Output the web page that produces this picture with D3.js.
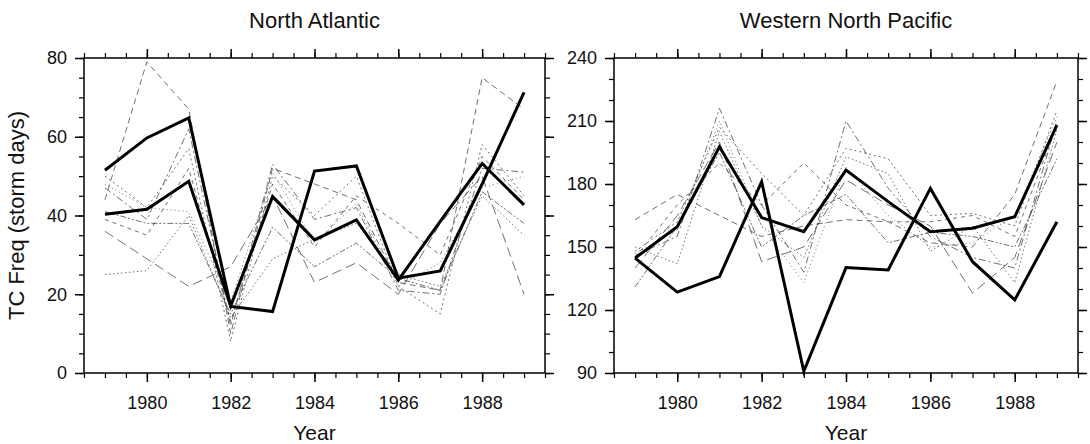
<!DOCTYPE html>
<html>
<head>
<meta charset="utf-8">
<script src="https://cdn.jsdelivr.net/npm/d3@7"></script>
<style>
  body { margin: 0; background: #fff; }
  text { font-family: "Liberation Sans", Arial, sans-serif; fill: #111; }
</style>
</head>
<body>
<svg id="chart" width="1090" height="444"></svg>
<script>
// years on the x axis
const years = [1979, 1980, 1981, 1982, 1983, 1984, 1985, 1986, 1987, 1988, 1989]
const yearTicks = [1980, 1982, 1984, 1986, 1988]

// North Atlantic (storm days)
const naTicks = [0, 20, 40, 60, 80]
const naBold1 = [51.5, 59.7, 64.8, 16.9, 15.6, 51.3, 52.6, 24.1, 25.9, 48, 71.3]
const naBold2 = [40.3, 41.6, 48.7, 17, 44.8, 33.8, 38.9, 23.6, 38.5, 53.2, 42.7]
const naThin = [
    [44, 79, 67, 10, 52, 48, 44, 23, 21, 75, 67],
    [50, 42, 57, 8, 50, 40, 50, 22, 15, 58, 45],
    [47, 39, 62, 12, 53, 39, 42, 21, 20, 52, 51],
    [25, 26, 40, 14, 29, 34, 38, 25, 22, 45, 35],
    [36, 29, 22, 27, 45, 23, 28, 20, 38, 50, 20],
    [41, 38, 38, 15, 37, 27, 33, 24, 21, 46, 38],
    [39, 35, 52, 13, 48, 32, 45, 38, 30, 55, 44],
    [48, 42, 41, 18, 51, 33, 43, 22, 28, 47, 50]
]

// Western North Pacific (storm days)
const wnpTicks = [90, 120, 150, 180, 210, 240]
const wnpBold1 = [144.7, 159.7, 197.7, 164, 157.3, 186.6, 171.6, 157.3, 158.9, 164.4, 208]
const wnpBold2 = [144.7, 128.5, 135.9, 181.1, 90.8, 140.2, 139.1, 177.9, 143, 124.8, 162]
const wnpThin = [
    [163, 175, 165, 155, 160, 163, 162, 152, 150, 175, 229],
    [148, 162, 207, 185, 165, 197, 192, 165, 166, 160, 215],
    [146, 155, 216, 170, 138, 210, 178, 155, 145, 140, 210],
    [150, 142, 205, 160, 145, 193, 185, 148, 160, 133, 206],
    [140, 165, 200, 143, 150, 182, 170, 160, 128, 145, 200],
    [131, 160, 195, 150, 165, 175, 152, 157, 155, 150, 192],
    [145, 170, 190, 170, 190, 170, 162, 162, 165, 155, 208],
    [147, 158, 210, 160, 133, 188, 165, 150, 152, 165, 212]
]

const dashes = ["6,4", "2,3", "7,3,2,3", "1.5,2.5", "10,5", "6,2,2,2,2,2", "4,4", "1,3"]

var svg = d3.select("#chart")
var top0 = 58, bottom0 = 373

function panel(opt) {
    var x = d3.scaleLinear().domain([1978.5, 1989.5]).range([opt.left, opt.right])
    var y = d3.scaleLinear().domain(opt.yDomain).range([bottom0, top0])
    var g = svg.append("g")

    // thin ensemble lines first, bold lines on top
    var line = d3.line()
        .x((d, i) => x(years[i]))
        .y(d => y(d))

    g.selectAll(".thin")
        .data(opt.thin)
        .join("path")
        .attr("class", "thin")
        .attr("d", line)
        .attr("fill", "none")
        .attr("stroke", "#444")
        .attr("stroke-width", 0.9)
        .attr("stroke-opacity", 0.85)
        .attr("stroke-dasharray", (d, i) => dashes[i % dashes.length])

    g.selectAll(".bold")
        .data(opt.bold)
        .join("path")
        .attr("class", "bold")
        .attr("d", line)
        .attr("fill", "none")
        .attr("stroke", "#000")
        .attr("stroke-width", 3)

    // frame
    g.append("rect")
        .attr("x", opt.left).attr("y", top0)
        .attr("width", opt.right - opt.left).attr("height", bottom0 - top0)
        .attr("fill", "none").attr("stroke", "#000").attr("stroke-width", 1.5)

    var minorX = d3.range(1978.5, 1989.51, 0.5)
    var minorY = d3.range(opt.yDomain[0], opt.yDomain[1] + 0.01, opt.minorStep)

    function axes(axisFn, scale, pos, major, minor, labels, pad) {
        var a = g.append("g").attr("transform", pos)
        a.call(axisFn(scale).tickValues(minor).tickSize(5).tickFormat(""))
        var b = g.append("g").attr("transform", pos)
        b.call(axisFn(scale).tickValues(major).tickSize(9).tickPadding(pad)
            .tickFormat(labels ? d3.format("d") : ""))
        g.selectAll(".domain").remove()
        a.selectAll("line").attr("stroke", "#000").attr("stroke-width", 1.2)
        b.selectAll("line").attr("stroke", "#000").attr("stroke-width", 1.5)
        b.selectAll("text").attr("font-size", 18).style("font-family", "Liberation Sans, Arial, sans-serif").attr("fill", "#111")
    }

    axes(d3.axisBottom, x, `translate(0,${bottom0})`, yearTicks, minorX, true, 14)
    axes(d3.axisTop, x, `translate(0,${top0})`, yearTicks, minorX, false, 8)
    axes(d3.axisLeft, y, `translate(${opt.left},0)`, opt.yTicks, minorY, true, 8)
    axes(d3.axisRight, y, `translate(${opt.right},0)`, opt.yTicks, minorY, false, 8)

    svg.append("text")
        .attr("x", (opt.left + opt.right) / 2).attr("y", 28)
        .attr("text-anchor", "middle").attr("font-size", 22)
        .text(opt.title)

    svg.append("text")
        .attr("x", (opt.left + opt.right) / 2).attr("y", 440)
        .attr("text-anchor", "middle").attr("font-size", 21)
        .text("Year")
}

panel({
    left: 84, right: 545, yDomain: [0, 80], yTicks: naTicks, minorStep: 5,
    bold: [naBold1, naBold2], thin: naThin, title: "North Atlantic"
})
panel({
    left: 614, right: 1078, yDomain: [90, 240], yTicks: wnpTicks, minorStep: 10,
    bold: [wnpBold1, wnpBold2], thin: wnpThin, title: "Western North Pacific"
})

svg.append("text")
    .attr("transform", `translate(24,${(top0 + bottom0) / 2}) rotate(-90)`)
    .attr("text-anchor", "middle").attr("font-size", 22)
    .text("TC Freq (storm days)")
</script>
</body>
</html>
